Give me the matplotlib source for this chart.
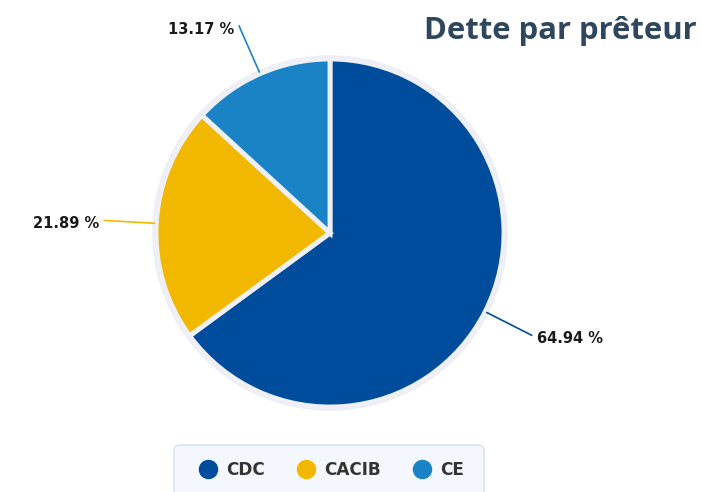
import numpy as np
import matplotlib.pyplot as plt
from matplotlib.lines import Line2D
from matplotlib.patches import FancyBboxPatch

lenders = ['CDC', 'CACIB', 'CE']
shares = [64.94, 21.89, 13.17]
colors = ['#004c9c', '#f2b800', '#1a83c6']
label_side = ['left', 'right', 'right']

W, H = 702, 492
fig = plt.figure(figsize=(W / 100, H / 100), dpi=100)
ax = fig.add_axes([0, 0, 1, 1])

cx, cy, r = 330, 259, 174

# light ring around the pie
ax.add_patch(plt.Circle((cx, cy), r + 3, color='#eceef5', zorder=1))
wedges, _ = ax.pie(shares, colors=colors, startangle=90, counterclock=False,
                   center=(cx, cy), radius=r,
                   wedgeprops=dict(edgecolor='#eef0f6', linewidth=3.5))
for w in wedges:
    w.set_zorder(2)

ax.set_xlim(0, W)
ax.set_ylim(0, H)
ax.set_aspect('equal')
ax.axis('off')

for w, val, side, c in zip(wedges, shares, label_side, colors):
    mid = np.deg2rad((w.theta1 + w.theta2) / 2)
    x0 = cx + (r + 2) * np.cos(mid)
    y0 = cy + (r + 2) * np.sin(mid)
    x1 = cx + (r + 52) * np.cos(mid)
    y1 = cy + (r + 52) * np.sin(mid)
    ax.plot([x0, x1], [y0, y1], color=c, lw=1.2, zorder=3)
    dx = 5 if side == 'left' else -5
    ax.text(x1 + dx, y1 - 3, f'{val:.2f} %', ha=side, va='center',
            fontsize=10.5, fontweight='bold', color='#1a1a1a',
            family='DejaVu Sans')

ax.text(697, 461, 'Dette par prêteur', ha='right', va='center',
        fontsize=22.3, fontweight='bold', color='#2f475e', family='Open Sans')

# legend box (runs past the bottom edge like the original)
ax.add_patch(FancyBboxPatch((174, -20), 310, 67,
                            boxstyle='round,pad=0,rounding_size=6',
                            facecolor='#f4f7fd', edgecolor='#dde3ef',
                            lw=1.2, zorder=1))

handles = [Line2D([], [], marker='o', linestyle='', markersize=13, color=c)
           for c in colors]
leg = fig.legend(handles, lenders, loc='center', ncol=3,
                 bbox_to_anchor=(331 / W, 22 / H), frameon=False,
                 prop=dict(family='DejaVu Sans', weight='bold', size=12.2),
                 handletextpad=0.5, columnspacing=1.8, borderpad=0,
                 handlelength=1.2)
for t in leg.get_texts():
    t.set_color('#333333')

fig.savefig('out.png', dpi=100)
